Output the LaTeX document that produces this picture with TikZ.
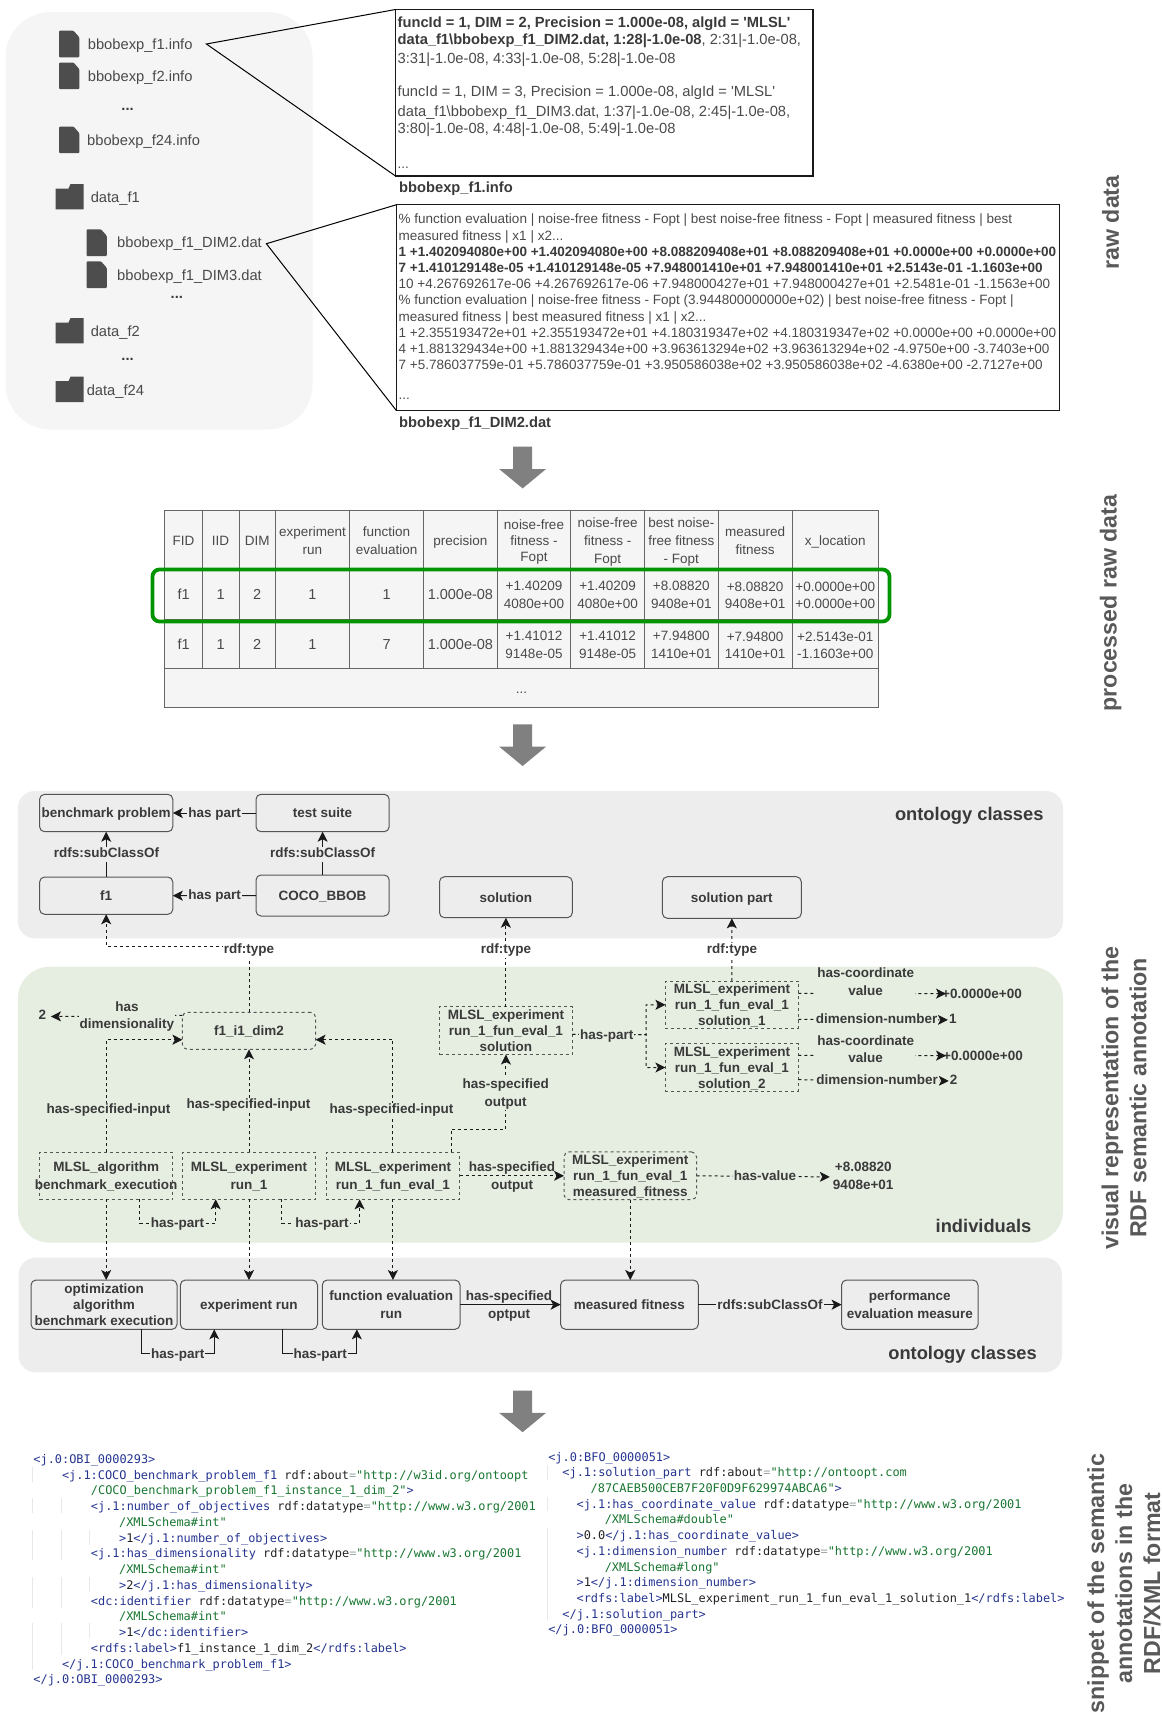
\documentclass[tikz,border=0pt]{standalone}
\usepackage{fontspec}
\usetikzlibrary{arrows.meta,calc}
\newfontfamily\lib{Liberation Sans}
\newfontfamily\cmono{DejaVu Sans Mono}
\definecolor{txtc}{HTML}{4A4A4A}
\definecolor{txtd}{HTML}{3A3A3A}
\definecolor{iconc}{HTML}{4D4D4D}
\definecolor{panelL}{HTML}{F5F5F5}
\definecolor{panelO}{HTML}{EDEDED}
\definecolor{panelG}{HTML}{E6EEE2}
\definecolor{hlgreen}{HTML}{009400}
\definecolor{bigarrow}{HTML}{808080}
\definecolor{cblue}{HTML}{24338F}
\definecolor{cgreen}{HTML}{17752F}
\definecolor{cblack}{HTML}{222222}
\definecolor{ceq}{HTML}{9AA5A5}
\definecolor{cguide}{HTML}{E8E8E8}
\definecolor{edgec}{HTML}{555555}
\newcommand\cb[1]{\textcolor{cblue}{#1}}
\newcommand\cg[1]{\textcolor{cgreen}{#1}}
\newcommand\ck[1]{\textcolor{cblack}{#1}}
\newcommand\ceqs{\textcolor{ceq}{=}}
\newcommand\us{\_}
\tikzset{
  rg/.style={font=\lib\fontsize{#1}{#1}\selectfont},
  bd/.style={font=\lib\bfseries\fontsize{13.5}{#1}\selectfont},
  bxb/.style={draw=edgec,line width=1pt,outer sep=0pt,inner sep=0pt,align=center,text=txtd},
  solidbox/.style={bxb,rounded corners=5pt},
  dashbox/.style={bxb,dash pattern=on 3pt off 3pt,draw=edgec},
  rdashbox/.style={dashbox,rounded corners=5pt},
  tc/.style={draw=black!60,fill=panelL,line width=1pt,outer sep=0pt,inner sep=0pt,align=center,text=txtc},
  lw/.style={fill=white,inner sep=1pt,align=center,text=txtd},
  lg/.style={fill=panelG,inner sep=1pt,align=center,text=txtd},
  lo/.style={fill=panelO,inner sep=1pt,align=center,text=txtd},
  ln/.style={inner sep=0pt,align=center,text=txtd},
  sl/.style={draw=black!90,line width=1pt,-{Stealth[length=10pt,width=10pt,inset=2.5pt]}},
  dl/.style={draw=black!90,line width=1pt,dash pattern=on 3pt off 3pt,-{Stealth[length=10pt,width=10pt,inset=2.5pt]}},
  ttl/.style={rotate=90,align=center,text=black!65,font=\lib\bfseries\fontsize{23.2}{28}\selectfont,inner sep=0pt},
  big/.style={fill=bigarrow,draw=none},
  cd/.style={anchor=base west,inner sep=0pt,font=\cmono\fontsize{11.92}{14}\selectfont},
  zoomline/.style={draw=black,line width=1pt},
}
\def\bpad{12.5pt}
\newcommand\boxn[7]{\pgfmathsetmacro\bw{#5-#3}\pgfmathsetmacro\bh{#6-#4}%
  \node[#1,minimum width=\bw pt,minimum height=\bh pt] (#2) at ({(#3+#5)/2},{(#4+#6)/2}) {\rule{0pt}{\bpad}#7\vphantom{Ag}};}
\newcommand\lab[5]{\node[#1] (#2) at (#3,#4+1.2) {\vphantom{Ag}#5\vphantom{Ag}};}
\newcommand\tl[5]{\node[anchor=base west,inner sep=0pt,#4] (#1) at (#2,#3+5) {#5};}
\newcommand\cl[4]{\node[cd] (#1) at (#2,#3+4) {#4};}
\newcommand\fileicon[3]{\path[fill=iconc,rounded corners=1pt,shift={(#2,#3)}] (0,0) -- (14.5,0) -- (20.3,6.5) -- (20.3,26.7) -- (0,26.7) -- cycle;}
\newcommand\foldericon[3]{\path[fill=iconc,shift={(#2,#3)}] (0,4.5) -- (13,4.5) -- (15,0) -- (28,0) -- (28,25.3) -- (0,25.3) -- cycle;}
\newcommand\bigdown[1]{\path[big,shift={(522.6,#1)}] (-9.5,0) -- (9.5,0) -- (9.5,22.3) -- (23.5,22.3) -- (0,41.7) -- (-23.5,22.3) -- (-9.5,22.3) -- cycle;}
\begin{document}
\begin{tikzpicture}[x=1pt,y=-1pt]
\useasboundingbox (0,0) rectangle (1162,1717);
% ---------- panels
\fill[panelL,rounded corners=45pt] (5.5,12) rectangle (312.6,429.5);
\fill[panelO,rounded corners=17pt] (17.8,791) rectangle (1063,938.3);
\fill[panelG,rounded corners=32pt] (17.8,966.7) rectangle (1063,1242.7);
\fill[panelO,rounded corners=17pt] (18.6,1257.7) rectangle (1062,1372.3);
% ---------- raw data: files
\fileicon{i1}{59}{30.7}
\fileicon{i2}{59}{62.5}
\fileicon{i3}{59}{126.5}
\fileicon{i4}{86.5}{229.3}
\fileicon{i5}{86.5}{261.3}
\foldericon{d1}{55.5}{184}
\foldericon{d2}{55.5}{318}
\foldericon{d3}{55.5}{376.7}
\tikzset{fl/.style={rg=14.7,text=txtc}}
\tl{fa}{87.7}{44}{fl}{bbobexp\us f1.info}
\tl{fb}{87.7}{76}{fl}{bbobexp\us f2.info}
\node[anchor=base,inner sep=0pt,font=\lib\bfseries\fontsize{14.7}{16}\selectfont,text=txtd] (fc) at (127.6,110) {...};
\tl{fd}{87}{140}{fl}{bbobexp\us f24.info}
\tl{fe}{90.6}{197}{fl}{data\us f1}
\tl{ff}{117}{242}{fl}{bbobexp\us f1\us DIM2.dat}
\tl{fg}{117}{275}{fl}{bbobexp\us f1\us DIM3.dat}
\node[anchor=base,inner sep=0pt,font=\lib\bfseries\fontsize{14.7}{16}\selectfont,text=txtd] (fh) at (176.8,298) {...};
\tl{fi}{90.6}{331}{fl}{data\us f2}
\node[anchor=base,inner sep=0pt,font=\lib\bfseries\fontsize{14.7}{16}\selectfont,text=txtd] (fj) at (127.6,360) {...};
\tl{fk}{86.6}{390}{fl}{data\us f24}
% ---------- raw data: zoomed boxes
\coordinate (z1) at (206.4,44);
\coordinate (z2) at (266.4,243.7);
\boxn{draw=black!90,line width=1.2pt,outer sep=0pt}{bxa}{395.5}{9.5}{813}{176}{}
\boxn{draw=black!90,line width=1pt,outer sep=0pt}{bxb}{396.5}{204.7}{1059.8}{410.7}{}
\draw[zoomline] (bxa.north west) -- (z1) -- (bxa.south west);
\draw[zoomline] (bxb.north west) -- (z2) -- (bxb.south west);
\tikzset{ar/.style={rg=14.7,text=txtc},ab/.style={font=\lib\bfseries\fontsize{14.7}{16}\selectfont,text=txtd},
  br/.style={rg=13.5,text=txtc},bb/.style={font=\lib\bfseries\fontsize{13.5}{16}\selectfont,text=txtd}}
\tl{a1}{397.5}{22}{ab}{funcId = 1, DIM = 2, Precision = 1.000e-08, algId = 'MLSL'}
\tl{a2}{397.5}{39.3}{ar}{\textbf{\textcolor{txtd}{data\us f1\textbackslash bbobexp\us f1\us DIM2.dat, 1:28|-1.0e-08}}, 2:31|-1.0e-08,}
\tl{a3}{397.5}{58.3}{ar}{3:31|-1.0e-08, 4:33|-1.0e-08, 5:28|-1.0e-08}
\tl{a4}{397.5}{91.7}{ar}{funcId = 1, DIM = 3, Precision = 1.000e-08, algId = 'MLSL'}
\tl{a5}{397.5}{111}{ar}{data\us f1\textbackslash bbobexp\us f1\us DIM3.dat, 1:37|-1.0e-08, 2:45|-1.0e-08,}
\tl{a6}{397.5}{128.3}{ar}{3:80|-1.0e-08, 4:48|-1.0e-08, 5:49|-1.0e-08}
\tl{a7}{397.5}{163}{br}{...}
\tl{a8}{399}{187.3}{ab}{bbobexp\us f1.info}
\tl{b1}{398.5}{218.7}{br}{\% function evaluation | noise-free fitness - Fopt | best noise-free fitness - Fopt | measured fitness | best}
\tl{b2}{398.5}{235.7}{br}{measured fitness | x1 | x2...}
\tl{b3}{398.5}{251.7}{bb}{1 +1.402094080e+00 +1.402094080e+00 +8.088209408e+01 +8.088209408e+01 +0.0000e+00 +0.0000e+00}
\tl{b4}{398.5}{267.7}{bb}{7 +1.410129148e-05 +1.410129148e-05 +7.948001410e+01 +7.948001410e+01 +2.5143e-01 -1.1603e+00}
\tl{b5}{398.5}{283.7}{br}{10 +4.267692617e-06 +4.267692617e-06 +7.948000427e+01 +7.948000427e+01 +2.5481e-01 -1.1563e+00}
\tl{b6}{398.5}{299.7}{br}{\% function evaluation | noise-free fitness - Fopt (3.944800000000e+02) | best noise-free fitness - Fopt |}
\tl{b7}{398.5}{316.3}{br}{measured fitness | best measured fitness | x1 | x2...}
\tl{b8}{398.5}{332.3}{br}{1 +2.355193472e+01 +2.355193472e+01 +4.180319347e+02 +4.180319347e+02 +0.0000e+00 +0.0000e+00}
\tl{b9}{398.5}{348.7}{br}{4 +1.881329434e+00 +1.881329434e+00 +3.963613294e+02 +3.963613294e+02 -4.9750e+00 -3.7403e+00}
\tl{b10}{398.5}{364.7}{br}{7 +5.786037759e-01 +5.786037759e-01 +3.950586038e+02 +3.950586038e+02 -4.6380e+00 -2.7127e+00}
\tl{b11}{398.5}{394}{br}{...}
\tl{b12}{399}{422.3}{ab}{bbobexp\us f1\us DIM2.dat}
% ---------- big arrows
\bigdown{446.7}
\bigdown{724.3}
\bigdown{1390.5}
% ---------- table
\def\bpad{15pt}
\tikzset{h1/.style={tc,rg=13.5},hs/.style={tc,font=\lib\fontsize{13.5}{#1}\selectfont},rs/.style={tc,font=\lib\fontsize{14.5}{16}\selectfont}}
\def\ya{510.7}\def\yb{568}\def\yc{619}\def\yd{668}\def\ye{707.3}
\boxn{h1}{ha}{164.9}{\ya}{202.2}{\yb}{FID}
\boxn{h1}{hb}{202.2}{\ya}{239}{\yb}{IID}
\boxn{h1}{hc}{239}{\ya}{275.3}{\yb}{DIM}
\boxn{hs=18}{hd}{275.3}{\ya}{349.5}{\yb}{experiment\\run}
\boxn{hs=17.4}{he}{349.5}{\ya}{423.6}{\yb}{function\\evaluation}
\boxn{h1}{hf}{423.6}{\ya}{497.2}{\yb}{precision}
\boxn{hs=16.3}{hg}{497.2}{\ya}{570.8}{\yb}{noise-free\\fitness -\\Fopt}
\boxn{hs=18}{hh}{570.8}{\ya}{644.5}{\yb}{noise-free\\fitness -\\Fopt}
\boxn{hs=18}{hi}{644.5}{\ya}{718.1}{\yb}{best noise-\\free fitness\\- Fopt}
\boxn{hs=17.4}{hj}{718.1}{\ya}{792.2}{\yb}{measured\\fitness}
\boxn{h1}{hk}{792.2}{\ya}{878.3}{\yb}{x\us location}
\boxn{rs}{ra}{164.9}{\yb}{202.2}{\yc}{f1}
\boxn{rs}{rb}{202.2}{\yb}{239}{\yc}{1}
\boxn{rs}{rc}{239}{\yb}{275.3}{\yc}{2}
\boxn{rs}{rd}{275.3}{\yb}{349.5}{\yc}{1}
\boxn{rs}{re}{349.5}{\yb}{423.6}{\yc}{1}
\boxn{rs}{rf}{423.6}{\yb}{497.2}{\yc}{1.000e-08}
\boxn{hs=18.7}{rg1}{497.2}{\yb}{570.8}{\yc}{+1.40209\\4080e+00}
\boxn{hs=18.7}{rh}{570.8}{\yb}{644.5}{\yc}{+1.40209\\4080e+00}
\boxn{hs=18.7}{ri}{644.5}{\yb}{718.1}{\yc}{+8.08820\\9408e+01}
\boxn{hs=17}{rj}{718.1}{\yb}{792.2}{\yc}{+8.08820\\9408e+01}
\boxn{hs=17}{rk}{792.2}{\yb}{878.3}{\yc}{+0.0000e+00\\+0.0000e+00}
\boxn{rs}{sa}{164.9}{\yc}{202.2}{\yd}{f1}
\boxn{rs}{sb}{202.2}{\yc}{239}{\yd}{1}
\boxn{rs}{sc}{239}{\yc}{275.3}{\yd}{2}
\boxn{rs}{sd}{275.3}{\yc}{349.5}{\yd}{1}
\boxn{rs}{se}{349.5}{\yc}{423.6}{\yd}{7}
\boxn{rs}{sf}{423.6}{\yc}{497.2}{\yd}{1.000e-08}
\boxn{hs=18.7}{sg}{497.2}{\yc}{570.8}{\yd}{+1.41012\\9148e-05}
\boxn{hs=18.7}{sh}{570.8}{\yc}{644.5}{\yd}{+1.41012\\9148e-05}
\boxn{hs=18.7}{si}{644.5}{\yc}{718.1}{\yd}{+7.94800\\1410e+01}
\boxn{hs=17}{sj}{718.1}{\yc}{792.2}{\yd}{+7.94800\\1410e+01}
\boxn{hs=17}{sk}{792.2}{\yc}{878.3}{\yd}{+2.5143e-01\\-1.1603e+00}
\boxn{h1}{tr}{164.9}{\yd}{878.3}{\ye}{...}
\draw[hlgreen,line width=3.8pt,rounded corners=7pt] (152.5,569.5) rectangle (889.5,621.5);
\def\bpad{12.5pt}
% ---------- ontology classes, top
\boxn{solidbox,bd=16}{bp}{39.6}{794.3}{172.8}{831.7}{benchmark problem}
\boxn{solidbox,bd=16}{ts}{256}{794.3}{389.2}{831.7}{test suite}
\boxn{solidbox,bd=16}{fone}{39.6}{877}{172.8}{914.3}{f1}
\boxn{solidbox,bd=16}{coco}{256}{875}{389.2}{916}{COCO\us BBOB}
\boxn{solidbox,bd=16}{solc}{439.5}{876.7}{572.3}{917.7}{solution}
\boxn{solidbox,bd=16}{solp}{662.4}{876.7}{801.3}{918.3}{solution part}
% ---------- individuals
\boxn{rdashbox,bd=16}{fi1}{182.4}{1012.3}{315.6}{1049.3}{f1\us i1\us dim2}
\boxn{dashbox,bd=16.2}{sol}{439.5}{1007}{572.3}{1054.3}{MLSL\us experiment\\run\us 1\us fun\us eval\us 1\\solution}
\boxn{dashbox,bd=16}{sa1}{665.4}{981.3}{798.4}{1028.3}{MLSL\us experiment\\run\us 1\us fun\us eval\us 1\\solution\us 1}
\boxn{dashbox,bd=16}{sa2}{665.4}{1044}{798.4}{1091}{MLSL\us experiment\\run\us 1\us fun\us eval\us 1\\solution\us 2}
\boxn{dashbox,bd=18}{alg}{39.6}{1152.3}{172.8}{1199.3}{MLSL\us algorithm\\\makebox[0pt][c]{benchmark\us execution}}
\boxn{dashbox,bd=18}{run}{182.4}{1152.3}{315.6}{1199.3}{MLSL\us experiment\\run\us 1}
\boxn{dashbox,bd=18}{fev}{326.3}{1152.3}{459.5}{1199.3}{MLSL\us experiment\\run\us 1\us fun\us eval\us 1}
\boxn{rdashbox,bd=16.2}{mfi}{564}{1152.3}{696.5}{1199.3}{MLSL\us experiment\\run\us 1\us fun\us eval\us 1\\measured\us fitness}
% ---------- ontology classes, bottom
\boxn{solidbox,bd=16.2}{opt}{31}{1280}{177}{1329.3}{optimization\\algorithm\\benchmark execution}
\boxn{solidbox,bd=16}{erun}{180.4}{1280}{317.5}{1329.3}{experiment run}
\boxn{solidbox,bd=18}{ferun}{322.3}{1280}{460}{1329.3}{function evaluation\\run}
\boxn{solidbox,bd=16}{mfit}{560.6}{1280}{698.3}{1329.3}{measured fitness}
\boxn{solidbox,bd=18}{perf}{841.6}{1280}{978}{1329.3}{performance\\evaluation measure}
% ---------- free values and helper points
\lab{ln,bd=16}{two}{42.5}{1015.3}{2}
\tl{pa}{942}{993.3}{bd=16,text=txtd}{+0.0000e+00}
\tl{pb}{943}{1055.3}{bd=16,text=txtd}{+0.0000e+00}
\lab{ln,bd=16}{onev}{952.8}{1018.7}{1}
\lab{ln,bd=16}{twov}{953.7}{1079.7}{2}
\lab{ln,bd=18}{fitv}{863.2}{1175.7}{+8.08820\\9408e+01}
\coordinate (rt) at (249,946.7);
\coordinate (hs) at (505.9,1129);
\coordinate (hp1) at (177.6,1223.3);
\coordinate (hp2) at (321.9,1223.3);
\coordinate (hpb) at (646,1034.5);
\coordinate (hpc) at (177.7,1353.7);
\coordinate (hpd) at (320.2,1353.7);
% ---------- connectors
\draw[sl] (ts.west) -- (bp.east);
\draw[sl] (coco.west) -- (fone.east);
\draw[sl] (fone.north) -- (bp.south);
\draw[sl] (coco.north) -- (ts.south);
\draw[dl] (fi1.north) -- (rt) -| (fone.south);
\draw[dl] (sol.north) -- (solc.south);
\draw[dl] (sa1.north) -- (solp.south);
\draw[dl] ([yshift=15.5pt]fi1.west) -- ([xshift=4.5pt]two.east);
\draw[dl] (alg.north) |- ([yshift=-8.9pt]fi1.west);
\draw[dl] (run.north) -- (fi1.south);
\draw[dl] (fev.north) |- ([yshift=-8.9pt]fi1.east);
\draw[dl] ([xshift=58.4pt]fev.north) |- (hs) -- (sol.south);
\draw[dl] ([xshift=33.6pt]alg.south) |- (hp1) -| ([xshift=-33.3pt]run.south);
\draw[dl] ([xshift=32.9pt]run.south) |- (hp2) -| ([xshift=-33.3pt]fev.south);
\draw[dl] (fev.east) -- (mfi.west);
\draw[dl] ([yshift=-3.8pt]sol.east) -- (hpb) |- (sa1.west);
\draw[dl] ([yshift=-3.8pt]sol.east) -- (hpb) |- (sa2.west);
\draw[dl] ([yshift=11.5pt]sa1.east) -- ([xshift=4pt]pa.west);
\draw[dl] ([yshift=-14.5pt]sa1.east) -- ([xshift=-1pt]onev.west);
\draw[dl] ([yshift=12.2pt]sa2.east) -- ([xshift=3pt]pb.west);
\draw[dl] ([yshift=-12.2pt]sa2.east) -- ([xshift=-1pt]twov.west);
\draw[dl] (mfi.east) -- ([xshift=-3pt]fitv.west);
\draw[dl] (alg.south) -- (alg.south |- opt.north);
\draw[dl] (run.south) -- (run.south |- erun.north);
\draw[dl] (fev.south) -- (fev.south |- ferun.north);
\draw[dl] (mfi.south) -- (mfi.south |- mfit.north);
\draw[sl] ([xshift=37.2pt]opt.south) |- (hpc) -| ([xshift=-34.7pt]erun.south);
\draw[sl] ([xshift=34pt]erun.south) |- (hpd) -| ([xshift=-34.3pt]ferun.south);
\draw[sl,line width=1.4pt] (ferun.east) -- (mfit.west);
\draw[sl,line width=1.4pt] (mfit.east) -- (perf.west);
% ---------- connector labels
\lab{lo,bd=16}{l1}{214.6}{812.7}{has part}
\lab{lo,bd=16}{l2}{214.6}{895.3}{has part}
\lab{lo,bd=16}{l3}{106.5}{853.3}{rdfs:subClassOf}
\lab{lo,bd=16}{l4}{322.6}{853.3}{rdfs:subClassOf}
\lab{lw,bd=16}{l5}{249}{949.3}{rdf:type}
\lab{lw,bd=16}{l6}{505.9}{949.3}{rdf:type}
\lab{lw,bd=16}{l7}{731.9}{949.3}{rdf:type}
\lab{lg,bd=17}{l8}{126.9}{1015.6}{has\\dimensionality}
\lab{lg,bd=16}{l9}{108.4}{1109.3}{has-specified-input}
\lab{lg,bd=16}{l10}{248.6}{1104.3}{has-specified-input}
\lab{lg,bd=16}{l11}{391.4}{1109.3}{has-specified-input}
\lab{lg,bd=17.4}{l12}{505.7}{1093}{has-specified\\output}
\lab{lg,bd=16}{l13}{177.6}{1223.3}{has-part}
\lab{lg,bd=16}{l14}{321.9}{1223.3}{has-part}
\lab{ln,bd=18}{l15}{512}{1175.7}{has-specified\\output}
\lab{lg,bd=16}{l16}{606.7}{1034.7}{has-part}
\lab{lg,bd=18}{l17}{865.7}{982.2}{has-coordinate\\value}
\lab{lg,bd=16}{l18}{876.6}{1019.3}{dimension-number}
\lab{lg,bd=17}{l19}{865.7}{1049.7}{has-coordinate\\value}
\lab{lg,bd=16}{l20}{877}{1079.7}{dimension-number}
\lab{lg,bd=16}{l21}{765}{1175.7}{has-value}
\lab{lo,bd=16}{l22}{177.7}{1353.7}{has-part}
\lab{lo,bd=16}{l23}{320.2}{1353.7}{has-part}
\lab{ln,bd=18}{l24}{509}{1305}{has-specified\\optput}
\lab{lo,bd=16}{l25}{770}{1305}{rdfs:subClassOf}
% ---------- panel captions
\tikzset{pc/.style={anchor=base east,inner sep=0pt,text=txtd,font=\lib\bfseries\fontsize{18.3}{20}\selectfont}}
\node[pc] (c1) at (1043.7,820) {ontology classes};
\node[pc] (c2) at (1031.5,1232.7) {individuals};
\node[pc] (c3) at (1037,1359.7) {ontology classes};
% ---------- side titles
\node[ttl] (t1) at (1110.5,222.5) {raw data};
\node[ttl] (t2) at (1110.5,603) {processed raw data};
\node[ttl] (t3) at (1124,1098) {visual representation of the\\RDF semantic annotation};
\node[ttl] (t4) at (1124,1583.5) {snippet of the semantic\\annotations in the\\RDF/XML format};
% ---------- code guides
\foreach \gx/\ga/\gb in {32/1467/1482,32/1498/1513,32/1530/1560,32/1577/1608,32/1623/1670,
  61.4/1498/1513,61.4/1530/1560,61.4/1577/1608,61.4/1623/1655,
  89.6/1530/1545,89.6/1577/1592,89.6/1623/1638,
  547/1465/1480,547/1497/1511,547/1528/1620}
  \draw[cguide,line width=.8pt] (\gx,\ga) -- (\gx,\gb);
% ---------- code, left
\cl{ca}{33.2}{1459.3}{\cb{<j.0:OBI\us 0000293>}}
\cl{cb}{61.8}{1475}{\cb{<j.1:COCO\us benchmark\us problem\us f1} \ck{rdf:about}\ceqs\cg{"http://w3id.org/ontoopt}}
\cl{cc}{90.7}{1490.7}{\cg{/COCO\us benchmark\us problem\us f1\us instance\us 1\us dim\us 2"}\cb{>}}
\cl{cd1}{90.7}{1506.7}{\cb{<j.1:number\us of\us objectives} \ck{rdf:datatype}\ceqs\cg{"http://www.w3.org/2001}}
\cl{ce}{118.9}{1522.3}{\cg{/XMLSchema\#int"}}
\cl{cf}{118.9}{1538}{\cb{>}\ck{1}\cb{</j.1:number\us of\us objectives>}}
\cl{cg1}{90.7}{1553.7}{\cb{<j.1:has\us dimensionality} \ck{rdf:datatype}\ceqs\cg{"http://www.w3.org/2001}}
\cl{ch}{118.9}{1569.3}{\cg{/XMLSchema\#int"}}
\cl{ci}{118.9}{1585}{\cb{>}\ck{2}\cb{</j.1:has\us dimensionality>}}
\cl{cj}{90.7}{1601}{\cb{<dc:identifier} \ck{rdf:datatype}\ceqs\cg{"http://www.w3.org/2001}}
\cl{ck1}{118.9}{1616.7}{\cg{/XMLSchema\#int"}}
\cl{cl1}{118.9}{1632.3}{\cb{>}\ck{1}\cb{</dc:identifier>}}
\cl{cm}{90.7}{1648.3}{\cb{<rdfs:label>}\ck{f1\us instance\us 1\us dim\us 2}\cb{</rdfs:label>}}
\cl{cn}{61.8}{1664}{\cb{</j.1:COCO\us benchmark\us problem\us f1>}}
\cl{co}{33.2}{1679.7}{\cb{</j.0:OBI\us 0000293>}}
% ---------- code, right
\cl{da}{548.1}{1457}{\cb{<j.0:BFO\us 0000051>}}
\cl{db}{562.2}{1472.7}{\cb{<j.1:solution\us part} \ck{rdf:about}\ceqs\cg{"http://ontoopt.com}}
\cl{dc}{590.5}{1488.3}{\cg{/87CAEB500CEB7F20F0D9F629974ABCA6"}\cb{>}}
\cl{dd}{576.4}{1504}{\cb{<j.1:has\us coordinate\us value} \ck{rdf:datatype}\ceqs\cg{"http://www.w3.org/2001}}
\cl{de}{604.6}{1519.7}{\cg{/XMLSchema\#double"}}
\cl{df}{576.4}{1535.3}{\cb{>}\ck{0.0}\cb{</j.1:has\us coordinate\us value>}}
\cl{dg}{576.4}{1551.3}{\cb{<j.1:dimension\us number} \ck{rdf:datatype}\ceqs\cg{"http://www.w3.org/2001}}
\cl{dh}{604.6}{1567}{\cg{/XMLSchema\#long"}}
\cl{di}{576.4}{1582.7}{\cb{>}\ck{1}\cb{</j.1:dimension\us number>}}
\cl{dj}{576.4}{1598.3}{\cb{<rdfs:label>}\ck{MLSL\us experiment\us run\us 1\us fun\us eval\us 1\us solution\us 1}\cb{</rdfs:label>}}
\cl{dk}{562.2}{1614}{\cb{</j.1:solution\us part>}}
\cl{dl1}{548.1}{1629.7}{\cb{</j.0:BFO\us 0000051>}}
\end{tikzpicture}
\end{document}
